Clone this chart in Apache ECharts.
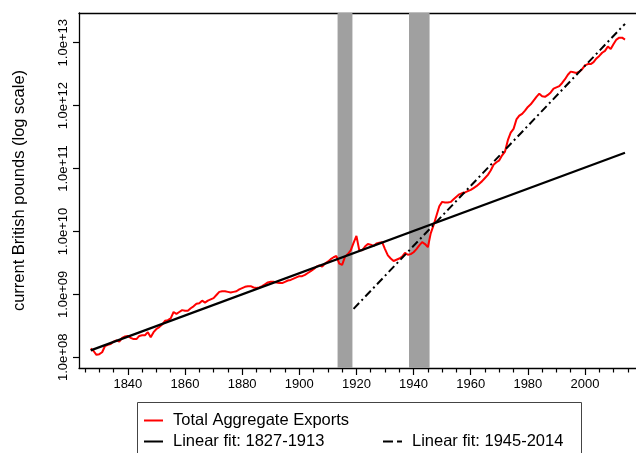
<!DOCTYPE html>
<html>
<head>
<meta charset="utf-8">
<script src="https://cdn.jsdelivr.net/npm/echarts@6/dist/echarts.min.js"></script>
<style>
  html, body { margin: 0; padding: 0; background: #fff; }
  #chart { width: 636px; height: 453px; }
</style>
</head>
<body>
<div id="chart"></div>
<script>
// 出口总额（log10，英镑）1827-2014
var years = [];
for (var y = 1827; y <= 2014; y++) years.push(y);
var exportsLog10 = [
  8.14, 8.10, 8.04, 8.05, 8.08, 8.18, 8.20, 8.21, 8.25, 8.27,
  8.25, 8.31, 8.33, 8.34, 8.31, 8.29, 8.29, 8.34, 8.35, 8.35,
  8.40, 8.32, 8.40, 8.45, 8.48, 8.52, 8.58, 8.59, 8.62, 8.72,
  8.69, 8.72, 8.75, 8.74, 8.74, 8.78, 8.81, 8.85, 8.86, 8.90,
  8.87, 8.90, 8.92, 8.94, 8.99, 9.04, 9.05, 9.05, 9.04, 9.03,
  9.04, 9.05, 9.08, 9.10, 9.12, 9.13, 9.13, 9.11, 9.10, 9.11,
  9.13, 9.16, 9.19, 9.20, 9.20, 9.19, 9.18, 9.18, 9.20, 9.22,
  9.23, 9.25, 9.27, 9.29, 9.29, 9.31, 9.34, 9.37, 9.40, 9.44,
  9.46, 9.44, 9.49, 9.52, 9.56, 9.59, 9.61, 9.49, 9.47, 9.60,
  9.64, 9.70, 9.82, 9.93, 9.70, 9.70, 9.76, 9.80, 9.79, 9.77,
  9.81, 9.82, 9.83, 9.72, 9.62, 9.57, 9.53, 9.55, 9.57, 9.60,
  9.66, 9.63, 9.64, 9.67, 9.72, 9.78, 9.83, 9.80, 9.75, 9.97,
  10.10, 10.25, 10.40, 10.47, 10.46, 10.46, 10.47, 10.51, 10.55, 10.59,
  10.61, 10.62, 10.64, 10.66, 10.69, 10.72, 10.76, 10.80, 10.85, 10.90,
  10.97, 11.06, 11.10, 11.13, 11.21, 11.27, 11.45, 11.57, 11.63, 11.78,
  11.84, 11.87, 11.92, 11.98, 12.02, 12.08, 12.14, 12.19, 12.15, 12.14,
  12.17, 12.21, 12.27, 12.29, 12.31, 12.36, 12.42, 12.49, 12.54, 12.53,
  12.52, 12.54, 12.58, 12.64, 12.66, 12.66, 12.69, 12.75, 12.79, 12.84,
  12.87, 12.94, 12.90, 12.98, 13.05, 13.08, 13.08, 13.05
];
// 线性拟合端点
var fit1Years = [1827, 2014];
var fit1Log10 = [8.11, 11.25];
var fit2Years = [1919, 2014];
var fit2Log10 = [8.77, 13.30];
// 战争阴影
var warStart = [1913.4, 1938.4];
var warEnd = [1918.6, 1945.6];
// 刻度
var xMajorTicks = [1840, 1860, 1880, 1900, 1920, 1940, 1960, 1980, 2000];
var xMinorTicks = [1825, 1830, 1835, 1845, 1850, 1855, 1865, 1870, 1875, 1885, 1890, 1895,
  1905, 1910, 1915, 1925, 1930, 1935, 1945, 1950, 1955, 1965, 1970, 1975, 1985, 1990, 1995,
  2005, 2010, 2015];
var yTicks = [8, 9, 10, 11, 12, 13];

var FONT = "'Liberation Sans', Arial, Helvetica, sans-serif";
var xMin = 1822.9, xMax = 2017.85;

function pairs(xs, vs) {
  return xs.map(function (x, i) { return [x, vs[i]]; });
}

function legendItem(name, left, top, icon, textPad) {
  return {
    data: [name],
    left: left, top: top, padding: 0,
    icon: icon, symbolKeepAspect: false,
    itemWidth: 19, itemHeight: 2,
    itemStyle: { borderWidth: 0 },
    textStyle: { fontSize: 16.5, color: '#000', fontFamily: FONT, padding: [0, 0, 0, textPad] }
  };
}

var chart = echarts.init(document.getElementById('chart'));
var option = {
  animation: false,
  backgroundColor: '#fff',
  textStyle: { fontFamily: FONT },
  grid: { left: 79, right: 0, top: 13, bottom: 85 },
  graphic: [
    {
      type: 'rect',
      shape: { x: 137.5, y: 402.5, width: 444, height: 70 },
      style: { fill: 'none', stroke: '#444', lineWidth: 1 },
      silent: true
    }
  ],
  legend: [
    legendItem('Total Aggregate Exports', 144, 412, 'rect', 5),
    legendItem('Linear fit: 1827-1913', 144, 433, 'rect', 5),
    legendItem('Linear fit: 1945-2014', 383, 433, 'path://M0,0h10v2h-10z M14,0h5v2h-5z', 5)
  ],
  xAxis: [
    {
      type: 'value', position: 'bottom', min: xMin, max: xMax,
      axisLine: { show: true, lineStyle: { color: '#000', width: 1.3 } },
      axisTick: { show: true, length: 7, customValues: xMajorTicks, lineStyle: { color: '#000', width: 1.2 } },
      axisLabel: {
        show: true, customValues: xMajorTicks, fontSize: 13, color: '#000', margin: 10, fontFamily: FONT,
        formatter: function (v) { return String(v); }
      },
      splitLine: { show: false }
    },
    {
      type: 'value', position: 'bottom', min: xMin, max: xMax,
      axisLine: { show: false },
      axisTick: { show: true, length: 4.5, customValues: xMinorTicks, lineStyle: { color: '#000', width: 1.2 } },
      axisLabel: { show: false },
      splitLine: { show: false }
    },
    {
      type: 'value', position: 'top', min: xMin, max: xMax,
      axisLine: { show: true, lineStyle: { color: '#000', width: 1.3 } },
      axisTick: { show: false },
      axisLabel: { show: false },
      splitLine: { show: false }
    }
  ],
  yAxis: {
    type: 'value', min: 7.83, max: 13.472,
    name: 'current British pounds (log scale)',
    nameLocation: 'middle', nameGap: 51,
    nameTextStyle: { fontSize: 16.5, color: '#000', fontFamily: FONT },
    axisLine: { show: true, lineStyle: { color: '#000', width: 1.3 } },
    axisTick: { show: true, length: 6, customValues: yTicks, lineStyle: { color: '#000', width: 1.2 } },
    axisLabel: {
      show: true, customValues: yTicks, rotate: 90, fontSize: 13, color: '#000', margin: 9, fontFamily: FONT,
      formatter: function (v) { return '1.0e+' + (v < 10 ? '0' : '') + Math.round(v); }
    },
    splitLine: { show: false }
  },
  series: [
    {
      name: 'Total Aggregate Exports',
      type: 'line',
      data: pairs(years, exportsLog10),
      symbol: 'none',
      color: '#ff0000',
      lineStyle: { color: '#ff0000', width: 2 },
      markArea: {
        silent: true,
        itemStyle: { color: '#a0a0a0', opacity: 1 },
        data: warStart.map(function (s, i) { return [{ xAxis: s }, { xAxis: warEnd[i] }]; })
      },
      z: 2
    },
    {
      name: 'Linear fit: 1827-1913',
      type: 'line',
      data: pairs(fit1Years, fit1Log10),
      symbol: 'none',
      color: '#000',
      lineStyle: { color: '#000', width: 2.2 },
      z: 3
    },
    {
      name: 'Linear fit: 1945-2014',
      type: 'line',
      data: pairs(fit2Years, fit2Log10),
      symbol: 'none',
      color: '#000',
      lineStyle: { color: '#000', width: 2, type: [8, 3.5, 2, 3.5] },
      z: 3
    }
  ]
};
chart.setOption(option);
</script>
</body>
</html>
